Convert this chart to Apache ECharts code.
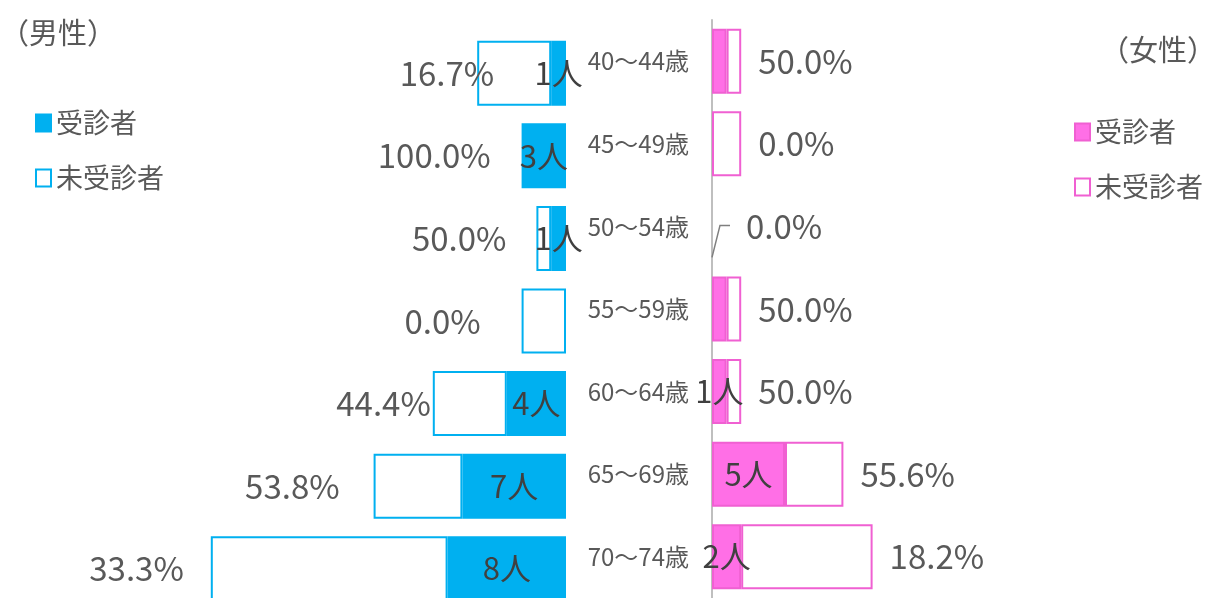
<!DOCTYPE html>
<html>
<head>
<meta charset="utf-8">
<script src="https://cdn.jsdelivr.net/npm/echarts@6/dist/echarts.min.js"></script>
<style>
  html, body { margin: 0; padding: 0; background: #ffffff; }
  #chart { width: 1220px; height: 598px; }
</style>
</head>
<body>
<div id="chart"></div>
<script>
// Age bands, top to bottom
const ageGroups = ['40～44歳', '45～49歳', '50～54歳', '55～59歳', '60～64歳', '65～69歳', '70～74歳'];

// Men: people examined and all eligible people per band
const maleExamined = [1, 3, 1, 0, 4, 7, 8];
const maleTotal    = [6, 3, 2, 3, 9, 13, 24];

// Women: people examined and all eligible people per band
const femaleExamined = [1, 0, 0, 1, 1, 5, 2];
const femaleTotal    = [2, 2, 0, 2, 2, 9, 11];

// Bands whose examined count is printed on the women's side
const femaleCountLabelled = [false, false, false, false, true, true, true];

const legendNames = ['受診者', '未受診者'];

// ---- styling ----
const FONT = '"Noto Sans CJK JP", "Noto Sans", sans-serif';
const TEXT = '#595959';
const COUNT_TEXT = '#404040';
const BLUE = '#00b0f0';
const PINK_FILL = '#ff6fe6';
const PINK_LINE = '#f060d2';
const BAR_W = 65;
// gap between each men's rate label and the end of its bar
const maleRateGap = [-17, 31, 30, 41, 2, 34, 27];

function rate(examined, total) {
  return (total > 0 ? examined / total * 100 : 0).toFixed(1) + '%';
}

const maleRest = maleTotal.map((t, i) => t - maleExamined[i]);
const femaleRest = femaleTotal.map((t, i) => t - femaleExamined[i]);

// zero-length bars get no outline so they leave no stray stroke
function noEdge(v) { return v === 0 ? { borderWidth: 0 } : undefined; }

const countLabel = {
  show: true,
  position: 'inside',
  color: COUNT_TEXT,
  fontSize: 31,
  fontFamily: FONT
};
const rateLabel = {
  show: true,
  color: TEXT,
  fontSize: 33,
  fontFamily: FONT
};

const chart = echarts.init(document.getElementById('chart'), null, { renderer: 'canvas' });

chart.setOption({
  animation: false,
  backgroundColor: '#ffffff',
  textStyle: { fontFamily: FONT },
  title: [
    { text: '（男性）', left: 0, top: 18, padding: 0,
      textStyle: { fontSize: 29, fontWeight: 'normal', color: TEXT, fontFamily: FONT } },
    { text: '（女性）', left: 1100, top: 35, padding: 0,
      textStyle: { fontSize: 29, fontWeight: 'normal', color: TEXT, fontFamily: FONT } }
  ],
  legend: [
    {
      data: legendNames.map(n => '男性' + n),
      formatter: n => n.slice(2),
      orient: 'vertical', left: 35, top: 109, padding: 0,
      icon: 'rect', itemWidth: 15, itemHeight: 17, itemGap: 27,
      selectedMode: false,
      textStyle: { fontSize: 27, lineHeight: 28, color: TEXT, fontFamily: FONT }
    },
    {
      data: legendNames.map(n => '女性' + n),
      formatter: n => n.slice(2),
      orient: 'vertical', left: 1074, top: 118, padding: 0,
      icon: 'rect', itemWidth: 15, itemHeight: 17, itemGap: 27,
      selectedMode: false,
      textStyle: { fontSize: 27, lineHeight: 28, color: TEXT, fontFamily: FONT }
    }
  ],
  grid: [
    // the men's rows sit a little lower and run past the bottom edge
    { left: 122, right: 654, top: 32, height: 578, outerBoundsMode: 'none', containLabel: false },
    { left: 712, right: 70, top: 20, height: 578, outerBoundsMode: 'none', containLabel: false }
  ],
  xAxis: [
    { gridIndex: 0, type: 'value', min: 0, max: 30, inverse: true, show: false },
    { gridIndex: 1, type: 'value', min: 0, max: 30, show: false }
  ],
  yAxis: [
    { gridIndex: 0, type: 'category', data: ageGroups, inverse: true, show: false },
    {
      gridIndex: 1, type: 'category', data: ageGroups, inverse: true,
      axisLine: { show: true, lineStyle: { color: '#bfbfbf', width: 2 } },
      axisTick: { show: false },
      splitLine: { show: false },
      axisLabel: { margin: 23, fontSize: 24, color: TEXT, fontFamily: FONT }
    }
  ],
  series: [
    {
      name: '男性受診者', type: 'bar', stack: 'male',
      xAxisIndex: 0, yAxisIndex: 0, barWidth: BAR_W,
      itemStyle: { color: BLUE, borderColor: BLUE, borderWidth: 2 },
      label: Object.assign({}, countLabel, { formatter: p => p.value > 0 ? p.value + '人' : '' }),
      data: maleExamined.map(v => ({ value: v, itemStyle: noEdge(v) }))
    },
    {
      name: '男性未受診者', type: 'bar', stack: 'male',
      xAxisIndex: 0, yAxisIndex: 0, barWidth: BAR_W,
      itemStyle: { color: '#ffffff', borderColor: BLUE, borderWidth: 2 },
      data: maleRest.map((v, i) => ({
        value: v,
        itemStyle: noEdge(v),
        label: Object.assign({}, rateLabel, {
          position: 'left',
          distance: maleRateGap[i],
          formatter: rate(maleExamined[i], maleTotal[i])
        })
      }))
    },
    {
      name: '女性受診者', type: 'bar', stack: 'female',
      xAxisIndex: 1, yAxisIndex: 1, barWidth: BAR_W,
      itemStyle: { color: PINK_FILL, borderColor: PINK_LINE, borderWidth: 2 },
      data: femaleExamined.map((v, i) => ({
        value: v,
        itemStyle: noEdge(v),
        label: Object.assign({}, countLabel, {
          show: femaleCountLabelled[i] && v > 0,
          formatter: v + '人'
        })
      }))
    },
    {
      name: '女性未受診者', type: 'bar', stack: 'female',
      xAxisIndex: 1, yAxisIndex: 1, barWidth: BAR_W,
      itemStyle: { color: '#ffffff', borderColor: PINK_LINE, borderWidth: 2 },
      data: femaleRest.map((v, i) => ({
        value: v,
        itemStyle: noEdge(v),
        label: Object.assign({}, rateLabel, {
          position: 'right',
          distance: femaleTotal[i] === 0 ? 34 : 17,
          formatter: rate(femaleExamined[i], femaleTotal[i])
        })
      }))
    },
    {
      // leader line for bands with nobody eligible
      type: 'custom', xAxisIndex: 1, yAxisIndex: 1, silent: true, z: 5,
      data: femaleTotal.map((t, i) => (t === 0 ? [0, i] : null)).filter(Boolean),
      renderItem: (params, api) => {
        const p = api.coord([api.value(0), api.value(1)]);
        return {
          type: 'polyline',
          shape: { points: [[p[0], p[1] + 31], [p[0] + 8, p[1] - 1], [p[0] + 18, p[1] - 1]] },
          style: { stroke: '#7f7f7f', lineWidth: 1.5, fill: null }
        };
      }
    }
  ]
});
</script>
</body>
</html>
